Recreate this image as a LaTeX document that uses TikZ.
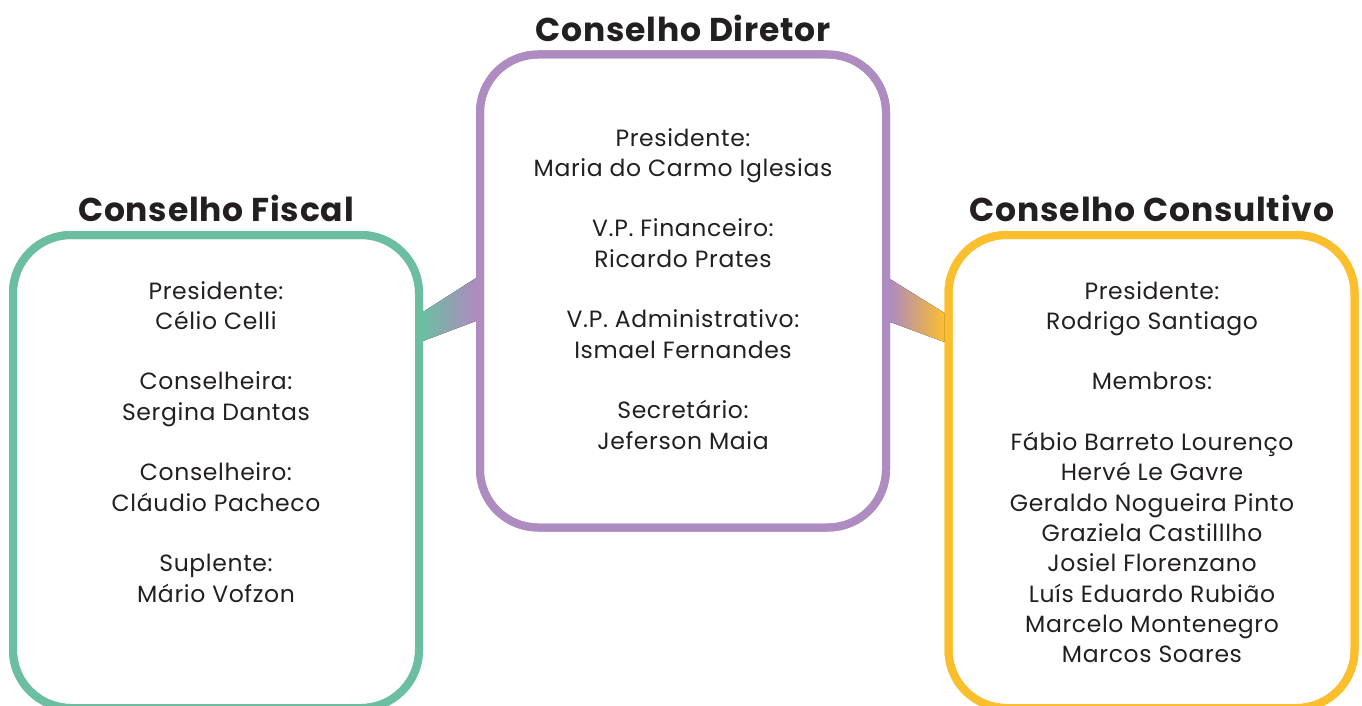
\documentclass[tikz,border=0pt]{standalone}
\usepackage{fontspec}
\setmainfont{Poppins}
\newfontfamily\corpofont[LetterSpace=2.7]{Poppins}
\newfontfamily\titulofont[LetterSpace=2.4]{Poppins}
\usetikzlibrary{positioning}
\definecolor{fiscalgreen}{HTML}{6CBEA0}
\definecolor{diretorpurple}{HTML}{AE8BC0}
\definecolor{consultyellow}{HTML}{FBBF2E}
\definecolor{textgray}{HTML}{231F20}

\begin{document}
\begin{tikzpicture}[x=1pt,y=-1pt,
    conselho/.style={draw=#1, line width=8pt, rounded corners=58pt,
      minimum width=406pt, minimum height=473pt, inner sep=0pt},
    titulo/.style={font=\titulofont\fontsize{33}{36}\selectfont\bfseries, text=textgray},
    membros/.style={font=\corpofont\fontsize{23.5}{30.3}\selectfont, text=textgray,
      align=center, anchor=north, inner sep=0pt}]
    \clip (0,0) rectangle (1362,706);

    % the three boards
    \node[conselho=fiscalgreen] (fiscal) at (216,471.5) {};
    \node[conselho=diretorpurple] (diretor) at (683,291) {};
    \node[conselho=consultyellow] (consultivo) at (1151.5,471.5) {};

    % links between them
    \fill[left color=fiscalgreen, right color=diretorpurple]
      (fiscal.east |- 0,312) -- (diretor.west |- 0,278) -- (diretor.west |- 0,321) -- (fiscal.east |- 0,341) -- cycle;
    \fill[left color=diretorpurple, right color=consultyellow]
      (diretor.east |- 0,279) -- (consultivo.west |- 0,313) -- (consultivo.west |- 0,342) -- (diretor.east |- 0,322) -- cycle;
    \node[conselho=fiscalgreen] at (fiscal) {};
    \node[conselho=diretorpurple] at (diretor) {};
    \node[conselho=consultyellow] at (consultivo) {};

    % titles
    \node[titulo] (tfiscal) at (216,208) {Conselho Fiscal};
    \node[titulo] (tdiretor) at (683,28) {Conselho Diretor};
    \node[titulo] (tconsultivo) at (1152,208) {Conselho Consultivo};

    % names
    \node[membros] (nfiscal) at (216,281) {Presidente:\\Célio Celli\\[30.3pt]
      Conselheira:\\Sergina Dantas\\[30.3pt]
      Conselheiro:\\Cláudio Pacheco\\[30.3pt]
      Suplente:\\Mário Vofzon};
    \node[membros] (ndiretor) at (683,128) {Presidente:\\Maria do Carmo Iglesias\\[30.3pt]
      V.P. Financeiro:\\Ricardo Prates\\[30.3pt]
      V.P. Administrativo:\\Ismael Fernandes\\[30.3pt]
      Secretário:\\Jeferson Maia};
    \node[membros] (nconsultivo) at (1152,281) {Presidente:\\Rodrigo Santiago\\[30.3pt]
      Membros:\\[30.3pt]
      Fábio Barreto Lourenço\\Hervé Le Gavre\\Geraldo Nogueira Pinto\\Graziela Castilllho\\
      Josiel Florenzano\\Luís Eduardo Rubião\\Marcelo Montenegro\\Marcos Soares};
\end{tikzpicture}
\end{document}
